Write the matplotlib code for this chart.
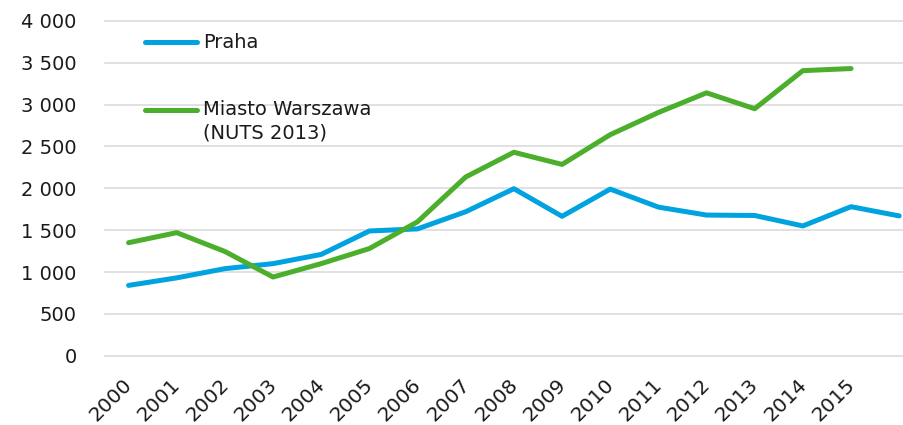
import matplotlib.pyplot as plt
from matplotlib.ticker import FuncFormatter, MultipleLocator
from matplotlib.transforms import ScaledTranslation
import numpy as np

# data
years = ['2000', '2001', '2002', '2003', '2004', '2005', '2006', '2007',
         '2008', '2009', '2010', '2011', '2012', '2013', '2014', '2015', '']
praha = [840, 930, 1040, 1100, 1210, 1490, 1515, 1720,
         1995, 1665, 1990, 1775, 1680, 1675, 1550, 1780, 1670]
warszawa = [1350, 1470, 1245, 940, 1100, 1280, 1600, 2135,
            2430, 2285, 2640, 2905, 3140, 2950, 3405, 3430]

blue = '#00A3E0'
green = '#4BAF2B'
txt = '#1a1a1a'

fig = plt.figure(figsize=(9.04, 4.25), dpi=100)
ax = fig.add_axes([0.1156, 0.163, 0.8844, 0.788])

x = np.arange(len(years))
ax.plot(x, praha, color=blue, linewidth=3.6, solid_capstyle='round', zorder=3)
ax.plot(x[:len(warszawa)], warszawa, color=green, linewidth=3.6,
        solid_capstyle='round', zorder=3)

ax.set_ylim(0, 4000)
ax.set_xlim(-0.5, 16.1)
ax.yaxis.set_major_locator(MultipleLocator(500))
ax.yaxis.set_major_formatter(FuncFormatter(lambda v, p: '{:,.0f}'.format(v).replace(',', ' ')))
ax.grid(axis='y', color='#D9D9D9', linewidth=1.1)
ax.set_axisbelow(True)
for gl in ax.get_ygridlines():
    gl.set_clip_on(False)
for s in ax.spines.values():
    s.set_visible(False)

ax.set_xticks(x)
ax.set_xticklabels(years, rotation=45, ha='right', rotation_mode='anchor',
                   fontsize=14.5, color=txt)
ax.tick_params(axis='x', length=0, pad=14)
ax.tick_params(axis='y', length=0, pad=20, labelsize=14, labelcolor=txt)
shift = ScaledTranslation(-0.06, 0, fig.dpi_scale_trans)
for lab in ax.get_xticklabels():
    lab.set_transform(lab.get_transform() + shift)

# legend drawn by hand, inside the plot area
ax.plot([0.0507, 0.1157], [0.936, 0.936], transform=ax.transAxes, color=blue,
        linewidth=3.6, solid_capstyle='round', clip_on=False)
ax.text(0.123, 0.936, 'Praha', transform=ax.transAxes, va='center',
        fontsize=14, color=txt)
ax.plot([0.0507, 0.1157], [0.733, 0.733], transform=ax.transAxes, color=green,
        linewidth=3.6, solid_capstyle='round', clip_on=False)
ax.text(0.123, 0.765, 'Miasto Warszawa\n(NUTS 2013)', transform=ax.transAxes,
        va='top', fontsize=14, color=txt, linespacing=1.32)

plt.savefig('out.png', dpi=100)
